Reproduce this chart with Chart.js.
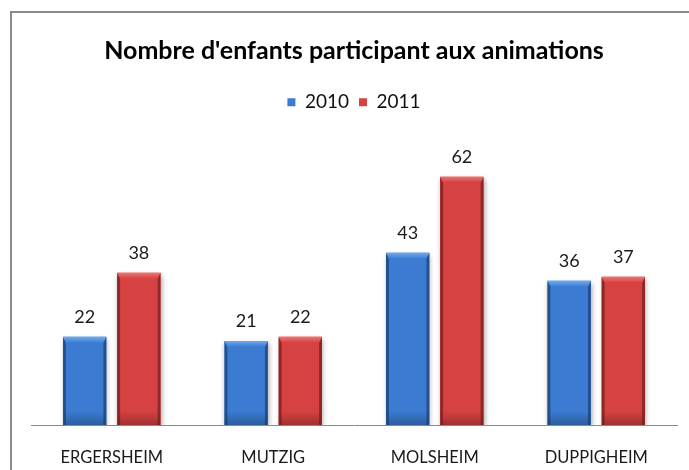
<!DOCTYPE html>
<html><head><meta charset="utf-8">
<script src="https://cdn.jsdelivr.net/npm/chart.js@4.4.1/dist/chart.umd.min.js"></script>
<style>
html,body{margin:0;padding:0;background:#fff;overflow:hidden;width:100%;height:100%;scrollbar-width:none;}
::-webkit-scrollbar{display:none;width:0;height:0;}
#box{position:fixed;left:10px;top:11px;width:677px;height:457px;overflow:hidden;border-left:2px solid #8a8a8a;border-top:2px solid #8a8a8a;background:#fff;}
#box canvas{display:block;}
</style></head><body>
<div id="box"><canvas id="c" width="677" height="457"></canvas></div>
<script>
const titleText = "Nombre d'enfants participant aux animations";
const categories = ['ERGERSHEIM', 'MUTZIG', 'MOLSHEIM', 'DUPPIGHEIM'];
const seriesNames = ['2010', '2011'];
const values2010 = [22, 21, 43, 36];
const values2011 = [38, 22, 62, 37];
const yMin = 0;
const yMax = 70;

const palette = {
  '2010': {main: '#3b7cd2', light: '#72aaf0', dark: '#24569c'},
  '2011': {main: '#d64141', light: '#ec7474', dark: '#9c2828'}
};

const FAMILY = 'Lato, "Liberation Sans", sans-serif';

const bevelPlugin = {
  id: 'bevel',
  beforeDatasetsDraw(chart) {
    const ctx = chart.ctx;
    ctx.save();
    ctx.shadowColor = 'rgba(0,0,0,0.35)';
    ctx.shadowBlur = 5;
    ctx.shadowOffsetX = 1;
    ctx.shadowOffsetY = 2;
  },
  afterDatasetsDraw(chart) {
    const ctx = chart.ctx;
    ctx.restore();
    chart.data.datasets.forEach((ds, di) => {
      const meta = chart.getDatasetMeta(di);
      const col = palette[ds.label];
      meta.data.forEach(el => {
        const p = el.getProps(['x', 'y', 'base', 'width'], true);
        const l = p.x - p.width / 2, r = p.x + p.width / 2, t = p.y, b = p.base;
        const bv = 6, sv = 3;
        ctx.save();
        let g = ctx.createLinearGradient(0, b - 14, 0, b);
        g.addColorStop(0, 'rgba(0,0,0,0)');
        g.addColorStop(1, 'rgba(0,0,0,0.25)');
        ctx.fillStyle = g;
        ctx.fillRect(l, b - 14, p.width, 14);
        g = ctx.createLinearGradient(l, 0, l + sv + 2, 0);
        g.addColorStop(0, col.dark);
        g.addColorStop(1, 'rgba(0,0,0,0)');
        ctx.fillStyle = g;
        ctx.beginPath();
        ctx.moveTo(l, t); ctx.lineTo(l + sv, t + bv); ctx.lineTo(l + sv, b); ctx.lineTo(l, b); ctx.closePath();
        ctx.fill();
        g = ctx.createLinearGradient(r, 0, r - sv - 2, 0);
        g.addColorStop(0, col.dark);
        g.addColorStop(1, 'rgba(0,0,0,0)');
        ctx.fillStyle = g;
        ctx.beginPath();
        ctx.moveTo(r, t); ctx.lineTo(r - sv, t + bv); ctx.lineTo(r - sv, b); ctx.lineTo(r, b); ctx.closePath();
        ctx.fill();
        g = ctx.createLinearGradient(0, t, 0, t + bv);
        g.addColorStop(0, col.light);
        g.addColorStop(1, col.main);
        ctx.fillStyle = g;
        ctx.beginPath();
        ctx.moveTo(l, t); ctx.lineTo(r, t); ctx.lineTo(r - sv, t + bv); ctx.lineTo(l + sv, t + bv); ctx.closePath();
        ctx.fill();
        ctx.restore();
      });
    });
  }
};

const valueLabels = {
  id: 'valueLabels',
  afterDatasetsDraw(chart) {
    const ctx = chart.ctx;
    ctx.save();
    ctx.font = '18px ' + FAMILY;
    ctx.fillStyle = '#1a1a1a';
    ctx.textAlign = 'center';
    ctx.textBaseline = 'alphabetic';
    chart.data.datasets.forEach((ds, di) => {
      chart.getDatasetMeta(di).data.forEach((el, i) => {
        const p = el.getProps(['x', 'y'], true);
        ctx.fillText(String(ds.data[i]), p.x, p.y - 14);
      });
    });
    ctx.restore();
  }
};

new Chart(document.getElementById('c'), {
  type: 'bar',
  data: {
    labels: categories,
    datasets: [
      {label: seriesNames[0], data: values2010, backgroundColor: palette['2010'].main},
      {label: seriesNames[1], data: values2011, backgroundColor: palette['2011'].main}
    ]
  },
  options: {
    responsive: false,
    maintainAspectRatio: false,
    animation: false,
    devicePixelRatio: 1,
    categoryPercentage: 0.671,
    barPercentage: 0.8,
    layout: {padding: {left: 19, right: 12, top: 0, bottom: 5}},
    plugins: {
      title: {
        display: true,
        text: titleText,
        color: '#000',
        font: {family: FAMILY, size: 25, weight: 'bold', lineHeight: 1.2},
        padding: {top: 22.5, bottom: 17.3}
      },
      legend: {
        display: true,
        position: 'top',
        labels: {
          color: '#111',
          boxWidth: 8,
          boxHeight: 8,
          padding: 10,
          font: {family: FAMILY, size: 19}
        }
      },
      tooltip: {enabled: false}
    },
    scales: {
      x: {
        position: 'bottom',
        grid: {display: false, drawTicks: false},
        border: {display: true, color: '#8a8a8a', width: 1},
        ticks: {color: '#1a1a1a', padding: 22.4, font: {family: FAMILY, size: 16.5}, maxRotation: 0, autoSkip: false},
        afterFit(s) { s.height = 40; }
      },
      spacer: {
        type: 'category',
        axis: 'x',
        position: 'top',
        labels: categories,
        grid: {display: false, drawTicks: false},
        border: {display: false},
        ticks: {display: false},
        afterFit(s) { s.height = 22.8; }
      },
      y: {
        display: false,
        min: yMin,
        max: yMax
      }
    }
  },
  plugins: [bevelPlugin, valueLabels]
});
</script>
</body></html>
